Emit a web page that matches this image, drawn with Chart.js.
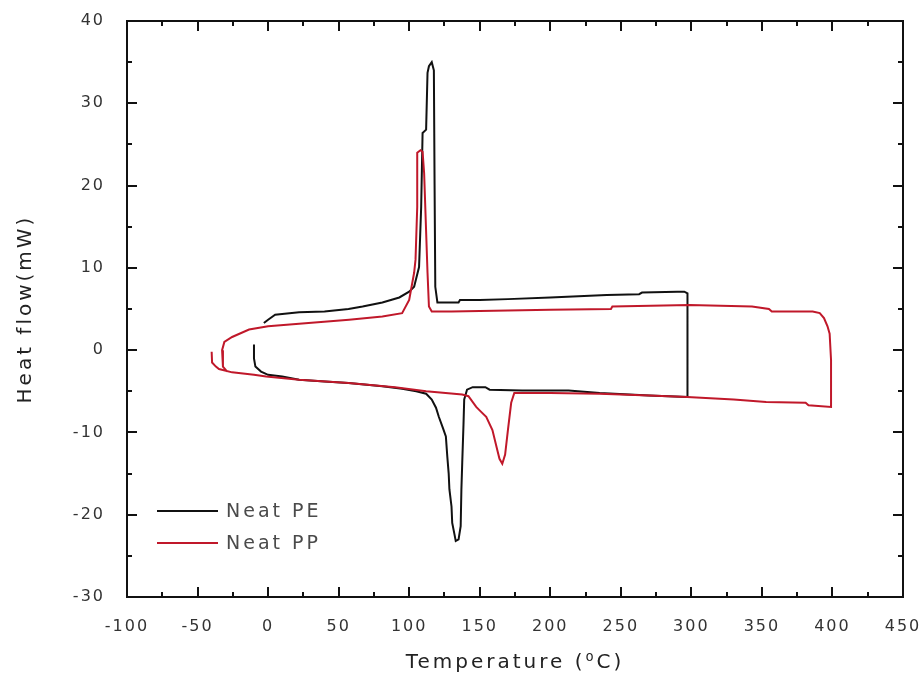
<!DOCTYPE html>
<html>
<head>
<meta charset="utf-8">
<title>DSC - Neat PE / Neat PP</title>
<script src="https://cdn.jsdelivr.net/npm/chart.js@4.4.1/dist/chart.umd.min.js"></script>
<style>
  html, body { margin: 0; padding: 0; background: #fff; }
  #wrap { width: 923px; height: 683px; }
</style>
</head>
<body>
<div id="wrap"><canvas id="dscChart" width="923" height="683"></canvas></div>
<script>
// --- Data ---
// Neat PE: heating from -10 to 300, then cooling back
const peTemp = [-10, -10, -9, -5, 0, 10, 22, 40, 57, 70, 81, 95, 105, 112, 116, 119, 121, 124, 126, 127, 128, 128.5, 130, 130.5, 132, 133, 135, 136.5, 137, 137.6, 138.5, 139, 141, 145, 154, 157, 180, 213, 235, 270, 297.5,
  297.5, 297, 295, 290, 265, 263, 240, 200, 170, 150, 136, 135, 120, 118.5, 118, 117.5, 116, 114, 113, 112, 109.5, 108.5, 107, 103.5, 100, 93, 81, 67, 57, 40, 22, 10, 5, 0, -3];
const peFlow = [0.7, -1.0, -2.0, -2.6, -3.0, -3.2, -3.6, -3.8, -4.0, -4.2, -4.4, -4.7, -5.0, -5.3, -6.0, -7.0, -8.1, -9.5, -10.5, -12.9, -15.0, -16.9, -19.0, -21.0, -22.3, -23.2, -23.0, -21.4, -17.0, -13.7, -9.0, -6.0, -4.8, -4.5, -4.5, -4.8, -4.9, -4.9, -5.2, -5.5, -5.7,
  6.3, 6.9, 7.1, 7.1, 7.0, 6.8, 6.7, 6.4, 6.2, 6.1, 6.1, 5.8, 5.8, 7.7, 20.0, 34.0, 35.0, 34.5, 33.7, 26.8, 26.4, 17.4, 10.1, 7.7, 7.1, 6.4, 5.8, 5.3, 5.0, 4.7, 4.6, 4.4, 4.3, 3.7, 3.3];

// Neat PP: heating from -40 to 400, then cooling back
const ppTemp = [-40, -39.7, -37, -34.8, -25.5, -10, -1.4, 22, 57, 90, 112, 137.6, 142, 147.5, 151, 154.6, 159, 162.4, 164, 166, 168, 170, 172.3, 174.5, 200, 235, 270, 297, 330, 353, 381, 383, 399,
  399, 398, 396.5, 394, 391, 386, 357, 355, 343, 298.6, 244, 243, 200, 160, 130, 116, 114, 113, 110.6, 109.5, 108, 105.7, 105.7, 104.5, 103.5, 100, 95, 81, 57.4, 22, 0, -13.5, -25.5, -31, -32.6, -32, -29];
const ppFlow = [-0.2, -1.5, -2.0, -2.3, -2.7, -3.0, -3.2, -3.6, -4.0, -4.5, -5.0, -5.4, -5.6, -6.9, -7.5, -8.1, -9.7, -12.1, -13.2, -13.8, -12.7, -9.7, -6.4, -5.2, -5.2, -5.3, -5.5, -5.7, -6.0, -6.3, -6.4, -6.7, -6.9,
  -1.2, 2.0, 2.9, 3.9, 4.5, 4.7, 4.7, 5.0, 5.3, 5.5, 5.3, 5.0, 4.9, 4.8, 4.7, 4.7, 5.3, 9.4, 21.5, 24.1, 24.3, 24.0, 17.4, 11.0, 9.4, 6.1, 4.5, 4.1, 3.7, 3.2, 2.9, 2.5, 1.6, 1.0, 0, -2.0, -2.6];

const seriesNames = ['Neat PE', 'Neat PP'];
const seriesColors = ['#111111', '#c0182a'];

const xTicks = { min: -100, max: 450, step: 50 };
const yTicks = { min: -30, max: 40, step: 10 };

const toPoints = (xs, ys) => xs.map((x, i) => ({ x: x, y: ys[i] }));

// Frame with inward major/minor ticks on all four sides
const framePlugin = {
  id: 'frame',
  afterDraw(chart) {
    const { ctx, chartArea: a, scales } = chart;
    ctx.save();
    ctx.letterSpacing = '0px';
    ctx.strokeStyle = '#111';
    ctx.lineWidth = 2;
    ctx.strokeRect(a.left, a.top, a.right - a.left, a.bottom - a.top);

    ctx.beginPath();
    for (let v = xTicks.min + xTicks.step / 2; v < xTicks.max; v += xTicks.step / 2) {
      const px = Math.round(scales.x.getPixelForValue(v));
      const len = (v % xTicks.step === 0) ? 10 : 5;
      ctx.moveTo(px, a.bottom); ctx.lineTo(px, a.bottom - len);
      ctx.moveTo(px, a.top); ctx.lineTo(px, a.top + len);
    }
    for (let v = yTicks.min + yTicks.step / 2; v < yTicks.max; v += yTicks.step / 2) {
      const py = Math.round(scales.y.getPixelForValue(v));
      const len = (v % yTicks.step === 0) ? 10 : 5;
      ctx.moveTo(a.left, py); ctx.lineTo(a.left + len, py);
      ctx.moveTo(a.right, py); ctx.lineTo(a.right - len, py);
    }
    ctx.stroke();
    ctx.restore();
  }
};

// Legend sitting inside the plot, lower left
const insideLegend = {
  id: 'insideLegend',
  afterDraw(chart) {
    const { ctx } = chart;
    const x0 = 157, x1 = 218, y0 = 511, gap = 32;
    ctx.save();
    ctx.font = '19px "DejaVu Sans"';
    ctx.letterSpacing = '3px';
    ctx.textBaseline = 'middle';
    ctx.textAlign = 'left';
    chart.data.datasets.forEach((ds, i) => {
      const y = y0 + i * gap;
      ctx.strokeStyle = ds.borderColor;
      ctx.lineWidth = 2;
      ctx.beginPath();
      ctx.moveTo(x0, y); ctx.lineTo(x1, y);
      ctx.stroke();
      ctx.fillStyle = '#4a4a4a';
      ctx.fillText(ds.label, 226, y + 1);
    });
    ctx.restore();
  }
};

// Wider letter spacing for axis titles, a little less for tick labels
const spacingPlugin = {
  id: 'spacing',
  beforeDraw(chart) { chart.ctx.letterSpacing = '3px'; },
  beforeDatasetsDraw(chart) { chart.ctx.letterSpacing = '2px'; },
  afterDraw(chart) { chart.ctx.letterSpacing = '0px'; }
};

const ctx = document.getElementById('dscChart');
new Chart(ctx, {
  type: 'scatter',
  data: {
    datasets: [
      {
        label: seriesNames[0],
        data: toPoints(peTemp, peFlow),
        borderColor: seriesColors[0],
        order: 1
      },
      {
        label: seriesNames[1],
        data: toPoints(ppTemp, ppFlow),
        borderColor: seriesColors[1],
        order: 0
      }
    ]
  },
  options: {
    responsive: false,
    animation: false,
    devicePixelRatio: 1,
    showLine: true,
    layout: { padding: { top: 21, right: 20, left: 0, bottom: 0 } },
    elements: {
      point: { radius: 0, hoverRadius: 0 },
      line: { borderWidth: 2, tension: 0, fill: false }
    },
    plugins: {
      legend: { display: false },
      tooltip: { enabled: false }
    },
    scales: {
      x: {
        type: 'linear',
        min: xTicks.min,
        max: xTicks.max,
        grid: { display: false },
        border: { display: false },
        afterFit(scale) {
          // keep the plot edges fixed, labels may overhang
          scale.height = 86;
          scale.paddingLeft = 0;
          scale.paddingRight = 0;
        },
        ticks: {
          stepSize: xTicks.step,
          autoSkip: false,
          maxRotation: 0,
          padding: 12,
          color: '#333',
          font: { family: 'DejaVu Sans', size: 16 },
          z: 1
        },
        title: {
          display: true,
          text: 'Temperature (\u2070C)',
          color: '#222',
          font: { family: 'DejaVu Sans', size: 20 },
          padding: { top: 0, bottom: 8 }
        }
      },
      y: {
        type: 'linear',
        min: yTicks.min,
        max: yTicks.max,
        grid: { display: false },
        border: { display: false },
        afterFit(scale) {
          scale.width = 127;
          scale.paddingTop = 0;
          scale.paddingBottom = 0;
        },
        ticks: {
          stepSize: yTicks.step,
          padding: 14,
          color: '#333',
          font: { family: 'DejaVu Sans', size: 16 },
          z: 1
        },
        title: {
          display: true,
          text: 'Heat flow(mW)',
          color: '#222',
          font: { family: 'DejaVu Sans', size: 20 },
          padding: { top: 14, bottom: 0 }
        }
      }
    }
  },
  plugins: [spacingPlugin, framePlugin, insideLegend]
});
</script>
</body>
</html>
